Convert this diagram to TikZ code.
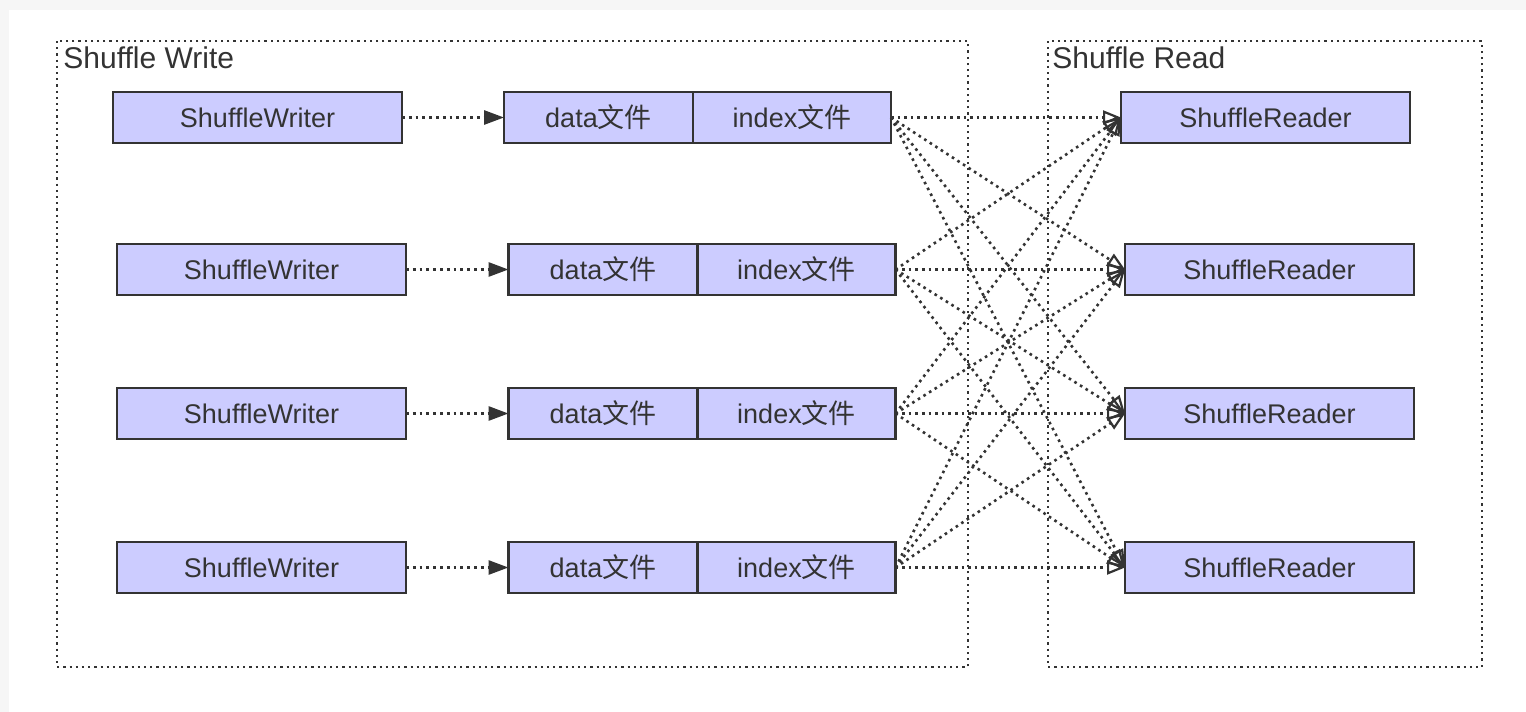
\documentclass[tikz,border=0pt]{standalone}
\usepackage{fontspec}
\setmainfont{Liberation Sans}
\newfontfamily\cjk{Noto Sans CJK SC}
\usetikzlibrary{arrows.meta,positioning}
\definecolor{boxfill}{HTML}{CCCCFF}
\definecolor{ink}{HTML}{333333}

\begin{document}
\begin{tikzpicture}[x=0.5pt,y=-0.5pt]
            \tikzstyle{stage}=[draw=ink, dotted, line width=1.1pt]
            \tikzstyle{stagelabel}=[anchor=north west, inner sep=2pt, text=ink, font=\fontsize{15}{18}\selectfont]
            \tikzstyle{block}=[draw=ink, fill=boxfill, line width=1.2pt, minimum height=25.5pt, inner sep=0pt, outer sep=0pt, text=ink, font=\fontsize{13.5}{16}\selectfont]
            \tikzstyle{worker}=[block, minimum width=144.5pt]
            \tikzstyle{datafile}=[block, minimum width=94.5pt]
            \tikzstyle{indexfile}=[block, minimum width=99pt]
            \tikzstyle{writeflow}=[draw=ink, dotted, line width=1.4pt, -{Triangle[length=10pt,width=7pt]}]
            \tikzstyle{readflow}=[draw=ink, dotted, line width=1.3pt, -{Triangle[open,length=9pt,width=7pt,line width=1.1pt]}]

            % page
            \fill[gray!7] (0,0) rectangle (1526,712);
            \fill[white] (9,10) rectangle (1526,712);
            \useasboundingbox (0,0) rectangle (1526,712);

            % stages
            \draw[stage] (57,41) rectangle (968,667);
            \node[stagelabel] (wlabel) at (59,42) {Shuffle Write};
            \draw[stage] (1048,41) rectangle (1482,667);
            \node[stagelabel] (rlabel) at (1048,42) {Shuffle Read};

            % writers and their files
            \node[worker] (w1) at (257.5,117.5) {ShuffleWriter};
            \node[worker] (w2) at (261.5,269.5) {ShuffleWriter};
            \node[worker] (w3) at (261.5,413.5) {ShuffleWriter};
            \node[worker] (w4) at (261.5,567.5) {ShuffleWriter};

            \node[datafile] (d1) at (598.5,117.5) {data{\cjk 文件}};
            \node[datafile] (d2) at (603,269.5) {data{\cjk 文件}};
            \node[datafile] (d3) at (603,413.5) {data{\cjk 文件}};
            \node[datafile] (d4) at (603,567.5) {data{\cjk 文件}};

            \node[indexfile, right=0pt of d1] (i1) {index{\cjk 文件}};
            \node[indexfile, right=0pt of d2] (i2) {index{\cjk 文件}};
            \node[indexfile, right=0pt of d3] (i3) {index{\cjk 文件}};
            \node[indexfile, right=0pt of d4] (i4) {index{\cjk 文件}};

            % readers
            \node[worker] (r1) at (1265.5,117.5) {ShuffleReader};
            \node[worker] (r2) at (1269.5,269.5) {ShuffleReader};
            \node[worker] (r3) at (1269.5,413.5) {ShuffleReader};
            \node[worker] (r4) at (1269.5,567.5) {ShuffleReader};

            % write
            \foreach \k in {1,...,4}
                \draw[writeflow] (w\k) -- (d\k);

            % every index file feeds every reader
            \foreach \k in {1,...,4}
                \foreach \j in {1,...,4}
                    \draw[readflow] (i\k.east) -- (r\j.west);

        \end{tikzpicture}
\end{document}
